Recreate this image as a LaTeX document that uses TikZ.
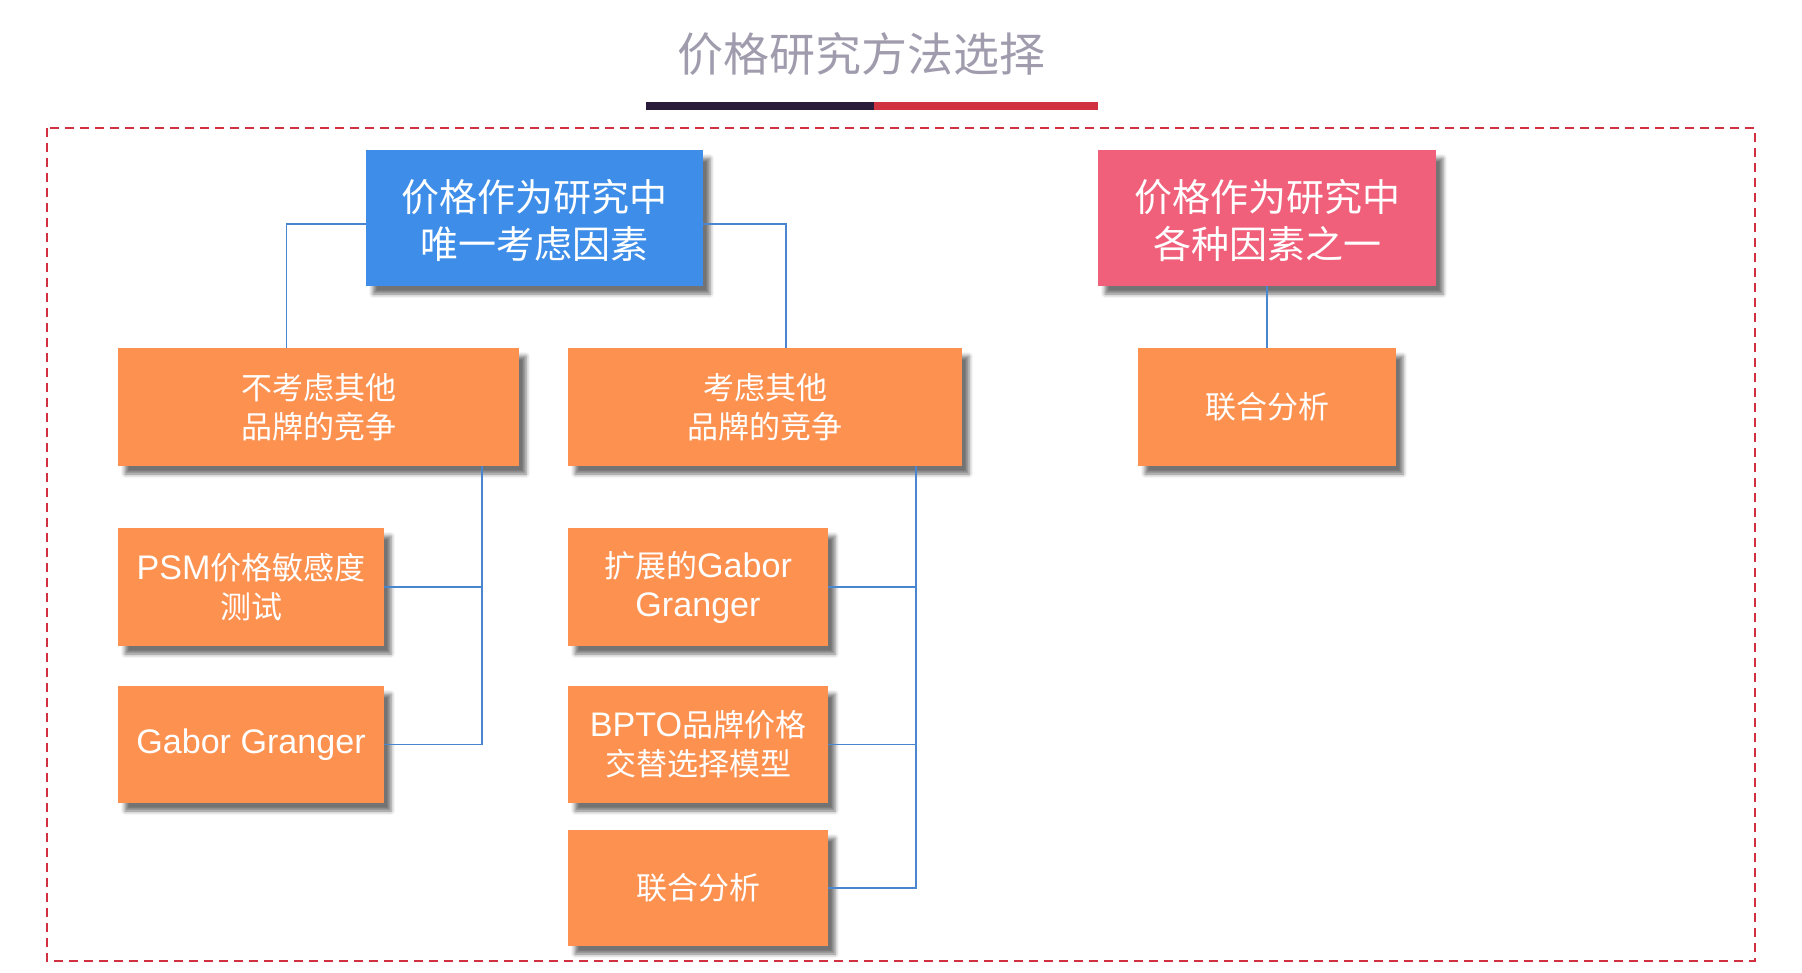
\documentclass[tikz,border=0pt]{standalone}
\usepackage{fontspec}
\setmainfont{Noto Sans CJK SC}
\newfontfamily\latfont{Liberation Sans}[Scale=1.1]
\newcommand\lat[1]{{\latfont #1}}
\usetikzlibrary{shadows.blur,calc}
\definecolor{boxblue}{HTML}{3E8EE9}
\definecolor{boxpink}{HTML}{F0607A}
\definecolor{boxorange}{HTML}{FC9150}
\definecolor{linkblue}{HTML}{4A86D0}
\definecolor{titlegray}{HTML}{A09CAD}
\definecolor{bardark}{HTML}{2A1B3A}
\definecolor{barred}{HTML}{D0323F}
\definecolor{borderred}{HTML}{D03040}
\begin{document}
\begin{tikzpicture}[x=1pt,y=-1pt,
  card/.style={draw=none, inner sep=0pt, align=center, text=white,
    blur shadow={shadow xshift=7pt, shadow yshift=-8pt, shadow blur radius=4pt, shadow opacity=55}},
  bigcard/.style={card, font=\fontsize{38}{47}\selectfont},
  smallcard/.style={card, fill=boxorange, font=\fontsize{31}{39}\selectfont},
  link/.style={draw=linkblue, line width=1.8pt}]
\useasboundingbox (0,0) rectangle (1802,972);
% title
\node[text=titlegray, font=\fontsize{46}{50}\selectfont] (title) at (861,54) {价格研究方法选择};
\fill[bardark] (646,102) rectangle (874,110);
\fill[barred] (874,102) rectangle (1098,110);
% dashed frame
\draw[borderred, line width=2pt, dash pattern=on 9pt off 6pt] (47,128) rectangle (1755,961);
% top boxes
\node[bigcard, fill=boxblue, minimum width=337pt, minimum height=136pt] (blue) at (534.5,218) {\rule{0pt}{6pt}\\[-15pt]价格作为研究中\\唯一考虑因素};
\node[bigcard, fill=boxpink, minimum width=338pt, minimum height=136pt] (pink) at (1267,218) {\rule{0pt}{6pt}\\[-15pt]价格作为研究中\\各种因素之一};
% level 2
\node[smallcard, minimum width=401pt, minimum height=118pt] (o1) at (318.5,407) {不考虑其他\\品牌的竞争};
\node[smallcard, minimum width=394pt, minimum height=118pt] (o2) at (765,407) {考虑其他\\品牌的竞争};
\node[smallcard, minimum width=258pt, minimum height=118pt] (o3) at (1267,407) {联合分析};
% level 3 left
\node[smallcard, minimum width=266pt, minimum height=118pt] (psm) at (251,587) {\lat{PSM}价格敏感度\\测试};
\node[smallcard, minimum width=266pt, minimum height=117pt] (gg) at (251,744.5) {\lat{Gabor Granger}};
% level 3 right
\node[smallcard, minimum width=260pt, minimum height=118pt] (eg) at (698,587) {扩展的\lat{Gabor}\\\lat{Granger}};
\node[smallcard, minimum width=260pt, minimum height=117pt] (bpto) at (698,744.5) {\lat{BPTO}品牌价格\\交替选择模型};
\node[smallcard, minimum width=260pt, minimum height=116pt] (ca) at (698,888) {联合分析};
% connectors
\draw[link] ([yshift=-6pt]blue.west) -| ([xshift=-32pt]o1.north);
\draw[link] ([yshift=-6pt]blue.east) -| ([xshift=21pt]o2.north);
\draw[link] (pink.south) -- (o3.north);
\coordinate (lbus) at ([xshift=-37pt]o1.south east);
\draw[link] (lbus) |- (gg.east);
\draw[link] (psm.east) -- (psm.east -| lbus);
\coordinate (rbus) at ([xshift=-46pt]o2.south east);
\draw[link] (rbus) |- (ca.east);
\draw[link] (eg.east) -- (eg.east -| rbus);
\draw[link] (bpto.east) -- (bpto.east -| rbus);
\end{tikzpicture}
\end{document}
